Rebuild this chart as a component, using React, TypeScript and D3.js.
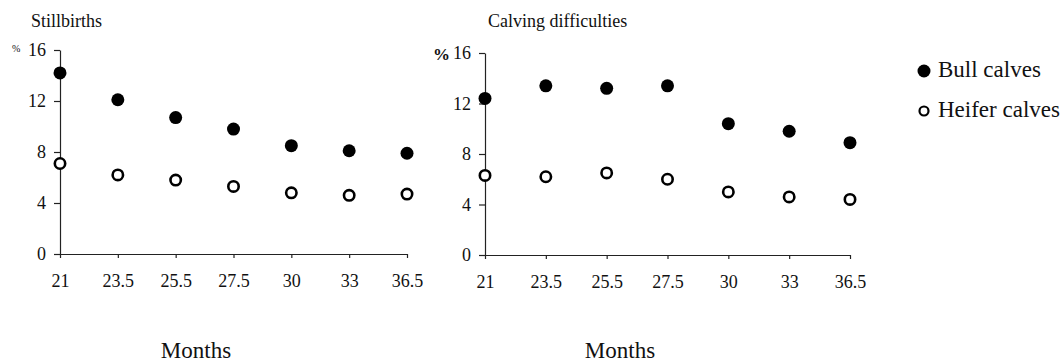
import React, { useEffect, useRef } from 'react';
import * as d3 from 'd3';

const months = ['21', '23.5', '25.5', '27.5', '30', '33', '36.5'];
const yTicks = [0, 4, 8, 12, 16];

const stillBull = [14.2, 12.1, 10.7, 9.8, 8.5, 8.1, 7.9];
const stillHeifer = [7.1, 6.2, 5.8, 5.3, 4.8, 4.6, 4.7];
const calvBull = [12.4, 13.4, 13.2, 13.4, 10.4, 9.8, 8.9];
const calvHeifer = [6.3, 6.2, 6.5, 6.0, 5.0, 4.6, 4.4];

const FONT = '"Liberation Serif", "Times New Roman", serif';

export default function App() {
  const ref = useRef<SVGSVGElement>(null);

  useEffect(() => {
    const svg = d3.select(ref.current);
    svg.selectAll('*').remove();

    const panels = [
      { title: 'Stillbirths', bull: stillBull, heifer: stillHeifer, x0: 60, x1: 407, yTop: 50, yBot: 254, titleX: 31, monthsX: 196, pct: 'small' },
      { title: 'Calving difficulties', bull: calvBull, heifer: calvHeifer, x0: 485, x1: 850, yTop: 53, yBot: 255, titleX: 488, monthsX: 620, pct: 'big' },
    ];

    panels.forEach(p => {
      const x = d3.scalePoint<string>().domain(months).range([p.x0, p.x1]);
      const y = d3.scaleLinear().domain([0, 16]).range([p.yBot, p.yTop]);
      const g = svg.append('g');

      const yAxis = d3.axisLeft(y).tickValues(yTicks).tickSize(6).tickSizeOuter(0).tickPadding(8);
      const ya = g.append('g')
        .attr('transform', `translate(${p.x0},0)`)
        .call(yAxis);

      const xAxis = d3.axisBottom(x).tickSize(4).tickSizeOuter(0).tickPadding(16);
      const xa = g.append('g')
        .attr('transform', `translate(0,${p.yBot})`)
        .call(xAxis);

      [ya, xa].forEach(a => {
        a.attr('font-family', null).attr('font-size', null);
        a.selectAll('text')
          .style('font-family', FONT)
          .style('font-size', '18px')
          .attr('fill', '#111');
        a.selectAll('.domain, .tick line').attr('stroke', '#222').attr('stroke-width', 1.2);
      });

      g.append('text')
        .attr('x', p.titleX).attr('y', 27)
        .style('font-size', '18px').style('font-family', FONT).attr('fill', '#111')
        .text(p.title);

      if (p.pct === 'small') {
        g.append('text').attr('x', 12).attr('y', 52)
          .style('font-size', '10px').style('font-family', FONT).attr('fill', '#111').text('%');
      } else {
        g.append('text').attr('x', 433).attr('y', 60)
          .style('font-size', '17px').style('font-weight', 'bold').style('font-family', FONT).attr('fill', '#111').text('%');
      }

      g.append('text')
        .attr('x', p.monthsX).attr('y', 358)
        .attr('text-anchor', 'middle')
        .style('font-size', '23px').style('font-family', FONT).attr('fill', '#111')
        .text('Months');

      g.selectAll('.bull')
        .data(p.bull)
        .join('circle')
        .attr('class', 'bull')
        .attr('cx', (d, i) => x(months[i]))
        .attr('cy', d => y(d))
        .attr('r', 6.5)
        .attr('fill', '#000');

      g.selectAll('.heifer')
        .data(p.heifer)
        .join('circle')
        .attr('class', 'heifer')
        .attr('cx', (d, i) => x(months[i]))
        .attr('cy', d => y(d))
        .attr('r', 5.2)
        .attr('fill', '#fff')
        .attr('stroke', '#000')
        .attr('stroke-width', 2.6);
    });

    // legend
    const leg = svg.append('g');
    leg.append('circle').attr('cx', 924).attr('cy', 71).attr('r', 6.5).attr('fill', '#000');
    leg.append('circle').attr('cx', 924).attr('cy', 111).attr('r', 4.5).attr('fill', '#fff').attr('stroke', '#000').attr('stroke-width', 2.2);
    leg.append('text').attr('x', 938).attr('y', 77).style('font-size', '23px').style('font-family', FONT).attr('fill', '#111').text('Bull calves');
    leg.append('text').attr('x', 938).attr('y', 117).style('font-size', '23px').style('font-family', FONT).attr('fill', '#111').text('Heifer calves');
  }, []);

  return (
    <svg ref={ref} width={1064} height={364}
      style={{ position: 'absolute', left: 0, top: 0, background: '#fff' }} />
  );
}
